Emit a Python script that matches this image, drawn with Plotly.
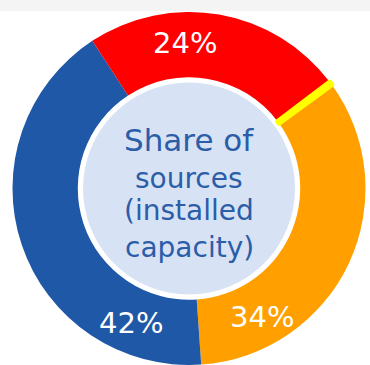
import plotly.graph_objects as go

# Data (drawing order: orange, blue, red, yellow separator)
labels = ["Orange", "Blue", "Red", "Yellow"]
values = [34, 42, 24, 0.3]
pct_labels = ["34%", "42%", "24%", ""]
colors = ["#FFA000", "#1F58A7", "#FF0000", "#FFFF00"]

center_lines = ["Share of", "sources", "(installed", "capacity)"]

W, H = 370, 365
CX, CY, R = 189, 188.5, 176.5  # pixel geometry (from top)
R_IN = 106

def px(x):
    return x / W

def py(y):
    return 1 - y / H

fig = go.Figure()

fig.add_trace(go.Pie(
    labels=labels, values=values, sort=False, direction="clockwise",
    rotation=54, hole=0.63,
    marker=dict(colors=colors,
                line=dict(color=["rgba(0,0,0,0)"] * 3 + ["#FFFF00"],
                          width=[0, 0, 0, 5])),
    textinfo="none", hoverinfo="label+value", showlegend=False,
    domain=dict(x=[px(CX - R), px(CX + R)], y=[py(CY + R), py(CY - R)]),
))

fig.add_trace(go.Pie(
    values=[1], labels=["center"], marker=dict(colors=["#D7E3F4"]),
    textinfo="none", hoverinfo="skip", showlegend=False, sort=False,
    domain=dict(x=[px(CX - R_IN), px(CX + R_IN)], y=[py(CY + R_IN), py(CY - R_IN)]),
))

annotations = []
label_pos = [(262, 316.5), (131, 322.5), (185, 42.5)]
for t, (x, y) in zip(pct_labels[:3], label_pos):
    annotations.append(dict(text=t, x=px(x), y=py(y), xref="paper", yref="paper",
                            showarrow=False, xanchor="center", yanchor="middle",
                            font=dict(family="DejaVu Sans", size=29, color="white")))

line_pos = [(189, 140, 31), (189, 178, 28), (189, 211, 28), (189, 247, 28)]
for t, (x, y, s) in zip(center_lines, line_pos):
    annotations.append(dict(text=t, x=px(x), y=py(y), xref="paper", yref="paper",
                            showarrow=False, xanchor="center", yanchor="middle",
                            font=dict(family="DejaVu Sans", size=s, color="#2B5DA8")))

fig.update_layout(
    width=W, height=H, margin=dict(l=0, r=0, t=0, b=0),
    paper_bgcolor="white",
    annotations=annotations,
    shapes=[dict(type="rect", xref="paper", yref="paper", x0=0, x1=1,
                 y0=py(11), y1=1, fillcolor="#F4F4F4", line=dict(width=0), layer="below")],
)

fig.write_html("out.html")
